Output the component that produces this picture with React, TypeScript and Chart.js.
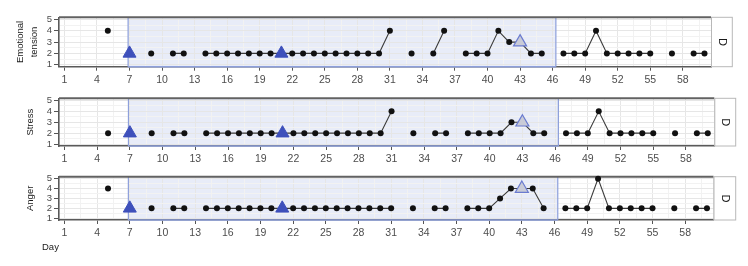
import React, { useEffect, useRef } from 'react';
import { Chart, registerables } from 'chart.js';

Chart.register(...registerables);
Chart.defaults.font.family = '"Liberation Sans", Arial, sans-serif';

// ---------- data ----------
const days = [
  1, 2, 3, 4, 5, 6, 7, 8, 9, 10,
  11, 12, 13, 14, 15, 16, 17, 18, 19, 20,
  21, 22, 23, 24, 25, 26, 27, 28, 29, 30,
  31, 32, 33, 34, 35, 36, 37, 38, 39, 40,
  41, 42, 43, 44, 45, 46, 47, 48, 49, 50,
  51, 52, 53, 54, 55, 56, 57, 58, 59, 60,
];

const emotionalTension = [
  null, null, null, null, 4, null, 2, null, 2, null,
  2, 2, null, 2, 2, 2, 2, 2, 2, 2,
  2, 2, 2, 2, 2, 2, 2, 2, 2, 2,
  4, null, 2, null, 2, 4, null, 2, 2, 2,
  4, 3, 3, 2, 2, null, 2, 2, 2, 4,
  2, 2, 2, 2, 2, null, 2, null, 2, 2,
];

const stress = [
  null, null, null, null, 2, null, 2, null, 2, null,
  2, 2, null, 2, 2, 2, 2, 2, 2, 2,
  2, 2, 2, 2, 2, 2, 2, 2, 2, 2,
  4, null, 2, null, 2, 2, null, 2, 2, 2,
  2, 3, 3, 2, 2, null, 2, 2, 2, 4,
  2, 2, 2, 2, 2, null, 2, null, 2, 2,
];

const anger = [
  null, null, null, null, 4, null, 2, null, 2, null,
  2, 2, null, 2, 2, 2, 2, 2, 2, 2,
  2, 2, 2, 2, 2, 2, 2, 2, 2, 2,
  2, null, 2, null, 2, 2, null, 2, 2, 2,
  3, 4, 4, 4, 2, null, 2, 2, 2, 5,
  2, 2, 2, 2, 2, null, 2, null, 2, 2,
];

// phase-change markers (dark triangles) and follow-up marker (light triangle)
const phaseMarkDays = [7, 21];
const emotionalPhaseMarks = [2, 2];
const stressPhaseMarks = [2, 2];
const angerPhaseMarks = [2, 2];

const followMarkDays = [43];
const emotionalFollowMarks = [3];
const stressFollowMarks = [3];
const angerFollowMarks = [4];

// shaded intervention phase
const phaseStart = 6.87;
const phaseEnd = 46.3;

const xTickDays = [1, 4, 7, 10, 13, 16, 19, 22, 25, 28, 31, 34, 37, 40, 43, 46, 49, 52, 55, 58];
const yTickValues = [1, 2, 3, 4, 5];
const stripLabel = 'D';
const xAxisTitle = 'Day';

// ---------- layout ----------
type PanelCfg = {
  title: string | string[];
  values: (number | null)[];
  marks: number[];
  follow: number[];
  top: number;
  h: number;
  areaTop: number;
  areaBottom: number;
  right: number;
  stripRight: number;
  titleX: number;
  showXTitle?: boolean;
};

const panels: PanelCfg[] = [
  {
    title: ['Emotional', 'tension'], values: emotionalTension, marks: emotionalPhaseMarks, follow: emotionalFollowMarks,
    top: 0, h: 88, areaTop: 17.3, areaBottom: 66.7, right: 711, stripRight: 732.3, titleX: 20.5,
  },
  {
    title: 'Stress', values: stress, marks: stressPhaseMarks, follow: stressFollowMarks,
    top: 88, h: 80, areaTop: 10.3, areaBottom: 58, right: 714.3, stripRight: 735.7, titleX: 30,
  },
  {
    title: 'Anger', values: anger, marks: angerPhaseMarks, follow: angerFollowMarks,
    top: 168, h: 98, areaTop: 7, areaBottom: 52, right: 713.5, stripRight: 735.7, titleX: 30, showXTitle: true,
  },
];

const xMinor = xTickDays.map((d) => d + 1.5);
const xAllTicks = [...xTickDays, ...xMinor].sort((a, b) => a - b);
const yMinor = yTickValues.slice(0, -1).map((v) => v + 0.5);
const yAllTicks = [...yTickValues, ...yMinor].sort((a, b) => a - b);

function makeConfig(p: PanelCfg): any {
  const titleFontSize = 9.5;
  const titleLH = 1.45;
  const decor = {
    id: 'decor',
    beforeDraw(chart: any) {
      const { ctx, chartArea: a, scales } = chart;
      const x0 = scales.x.getPixelForValue(phaseStart);
      const x1 = scales.x.getPixelForValue(phaseEnd);
      ctx.save();
      ctx.fillStyle = '#ffffff';
      ctx.fillRect(a.left, a.top, a.right - a.left, a.bottom - a.top);
      ctx.fillStyle = '#e8ecf8';
      ctx.fillRect(x0, a.top, x1 - x0, a.bottom - a.top);
      ctx.restore();
    },
    beforeDatasetsDraw(chart: any) {
      const { ctx, chartArea: a, scales } = chart;
      const x0 = scales.x.getPixelForValue(phaseStart);
      const x1 = scales.x.getPixelForValue(phaseEnd);
      ctx.save();
      ctx.strokeStyle = '#b8b8b8';
      ctx.lineWidth = 1;
      ctx.beginPath();
      ctx.moveTo(a.right + 0.5, a.top);
      ctx.lineTo(a.right + 0.5, a.bottom);
      ctx.stroke();
      ctx.strokeStyle = '#8d9fdb';
      ctx.lineWidth = 1.2;
      ctx.beginPath();
      ctx.moveTo(x0, a.top);
      ctx.lineTo(x0, a.bottom);
      ctx.moveTo(x1, a.top);
      ctx.lineTo(x1, a.bottom);
      ctx.stroke();
      ctx.lineWidth = 1.6;
      ctx.beginPath();
      ctx.moveTo(x0, a.bottom);
      ctx.lineTo(x1, a.bottom);
      ctx.stroke();
      ctx.strokeStyle = '#626262';
      ctx.lineWidth = 2;
      ctx.beginPath();
      ctx.moveTo(a.left, a.top);
      ctx.lineTo(a.right, a.top);
      ctx.stroke();
      ctx.restore();
    },
    afterDraw(chart: any) {
      const { ctx, chartArea: a } = chart;
      ctx.save();
      const sx = a.right + 0.5;
      const sw = p.stripRight - sx;
      ctx.fillStyle = '#ffffff';
      ctx.fillRect(sx, a.top, sw, a.bottom - a.top);
      ctx.strokeStyle = '#b8b8b8';
      ctx.lineWidth = 1;
      ctx.strokeRect(sx, a.top, sw, a.bottom - a.top);
      ctx.translate(sx + sw / 2, (a.top + a.bottom) / 2);
      ctx.rotate(Math.PI / 2);
      ctx.fillStyle = '#1a1a1a';
      ctx.font = '11px "Liberation Sans", Arial, sans-serif';
      ctx.textAlign = 'center';
      ctx.textBaseline = 'middle';
      ctx.fillText(stripLabel, 0, 0);
      ctx.restore();
      if (p.showXTitle) {
        ctx.save();
        ctx.fillStyle = '#1a1a1a';
        ctx.font = '9.5px "Liberation Sans", Arial, sans-serif';
        ctx.textAlign = 'left';
        ctx.textBaseline = 'middle';
        ctx.fillText(xAxisTitle, 42, 247.5 - p.top);
        ctx.restore();
      }
    },
  };

  const isXMajor = (v: number) => xTickDays.includes(v);
  const isYMajor = (v: number) => yTickValues.includes(v);

  return {
    type: 'line',
    data: {
      datasets: [
        {
          label: 'follow-up',
          data: followMarkDays.map((d, i) => ({ x: d, y: p.follow[i] })),
          showLine: false,
          pointStyle: 'triangle',
          pointRadius: 7.5,
          pointBackgroundColor: '#c9cbd7',
          pointBorderColor: '#6a7bd0',
          pointBorderWidth: 1.2,
          clip: false,
        },
        {
          label: 'phase change',
          data: phaseMarkDays.map((d, i) => ({ x: d, y: p.marks[i] })),
          showLine: false,
          pointStyle: 'triangle',
          pointRadius: 7.5,
          pointBackgroundColor: '#3e50bb',
          pointBorderColor: '#3e50bb',
          pointBorderWidth: 1,
          clip: false,
        },
        {
          label: 'score',
          data: days.map((d, i) => ({ x: d, y: p.values[i] })),
          borderColor: '#3a3a3a',
          borderWidth: 1.1,
          pointRadius: 3,
          pointBackgroundColor: '#111111',
          pointBorderColor: '#111111',
          pointBorderWidth: 0,
          spanGaps: false,
          tension: 0,
          clip: false,
        },
      ],
    },
    options: {
      responsive: false,
      animation: false,
      events: [],
      layout: { padding: { left: 0, right: 748 - p.right, top: p.areaTop, bottom: 0 } },
      plugins: { legend: { display: false }, tooltip: { enabled: false } },
      scales: {
        x: {
          type: 'linear',
          position: 'bottom',
          min: 0.5,
          max: 60.6,
          afterBuildTicks: (axis: any) => {
            axis.ticks = xAllTicks.map((v) => ({ value: v }));
          },
          afterFit: (axis: any) => {
            axis.height = p.h - p.areaBottom;
          },
          ticks: {
            autoSkip: false,
            maxRotation: 0,
            minRotation: 0,
            padding: 3,
            color: '#4d4d4d',
            font: { size: 10.5 },
            callback: (v: number) => (isXMajor(v) ? String(v) : ''),
          },
          grid: {
            drawTicks: true,
            tickLength: 4,
            color: (c: any) => (c.tick && isXMajor(c.tick.value) ? '#e6e6e6' : '#f2f2f2'),
            tickColor: (c: any) => (c.tick && isXMajor(c.tick.value) ? '#555555' : 'rgba(0,0,0,0)'),
            lineWidth: 1,
          },
          border: { display: true, color: '#5a5a5a', width: 1.6 },
        },
        y: {
          type: 'linear',
          position: 'left',
          min: 0.82,
          max: 5.2,
          afterBuildTicks: (axis: any) => {
            axis.ticks = yAllTicks.map((v) => ({ value: v }));
          },
          afterFit: (axis: any) => {
            axis.width = 59;
          },
          ticks: {
            autoSkip: false,
            padding: 2,
            color: '#4d4d4d',
            font: { size: 9.5 },
            callback: (v: number) => (isYMajor(v) ? String(v) : ''),
          },
          grid: {
            drawTicks: true,
            tickLength: 5,
            color: (c: any) => (c.tick && isYMajor(c.tick.value) ? '#e6e6e6' : '#f2f2f2'),
            tickColor: (c: any) => (c.tick && isYMajor(c.tick.value) ? '#555555' : 'rgba(0,0,0,0)'),
            lineWidth: 1,
          },
          border: { display: true, color: '#5a5a5a', width: 1.6 },
          title: {
            display: true,
            text: p.title,
            color: '#1a1a1a',
            font: { size: titleFontSize, lineHeight: titleLH },
            padding: { top: p.titleX - (titleFontSize * titleLH) / 2, bottom: 0 },
          },
        },
      },
    },
    plugins: [decor],
  };
}

function Panel({ cfg }: { cfg: PanelCfg }) {
  const ref = useRef<HTMLCanvasElement>(null);
  useEffect(() => {
    if (!ref.current) return;
    const chart = new Chart(ref.current, makeConfig(cfg));
    return () => chart.destroy();
  }, [cfg]);
  return (
    <canvas
      ref={ref}
      width={748}
      height={cfg.h}
      style={{ position: 'absolute', left: 0, top: cfg.top, width: 748, height: cfg.h, display: 'block' }}
    />
  );
}

export default function App() {
  return (
    <div style={{ position: 'absolute', left: 0, top: 0, width: 748, height: 266, background: '#ffffff' }}>
      {panels.map((p, i) => (
        <Panel key={i} cfg={p} />
      ))}
    </div>
  );
}
